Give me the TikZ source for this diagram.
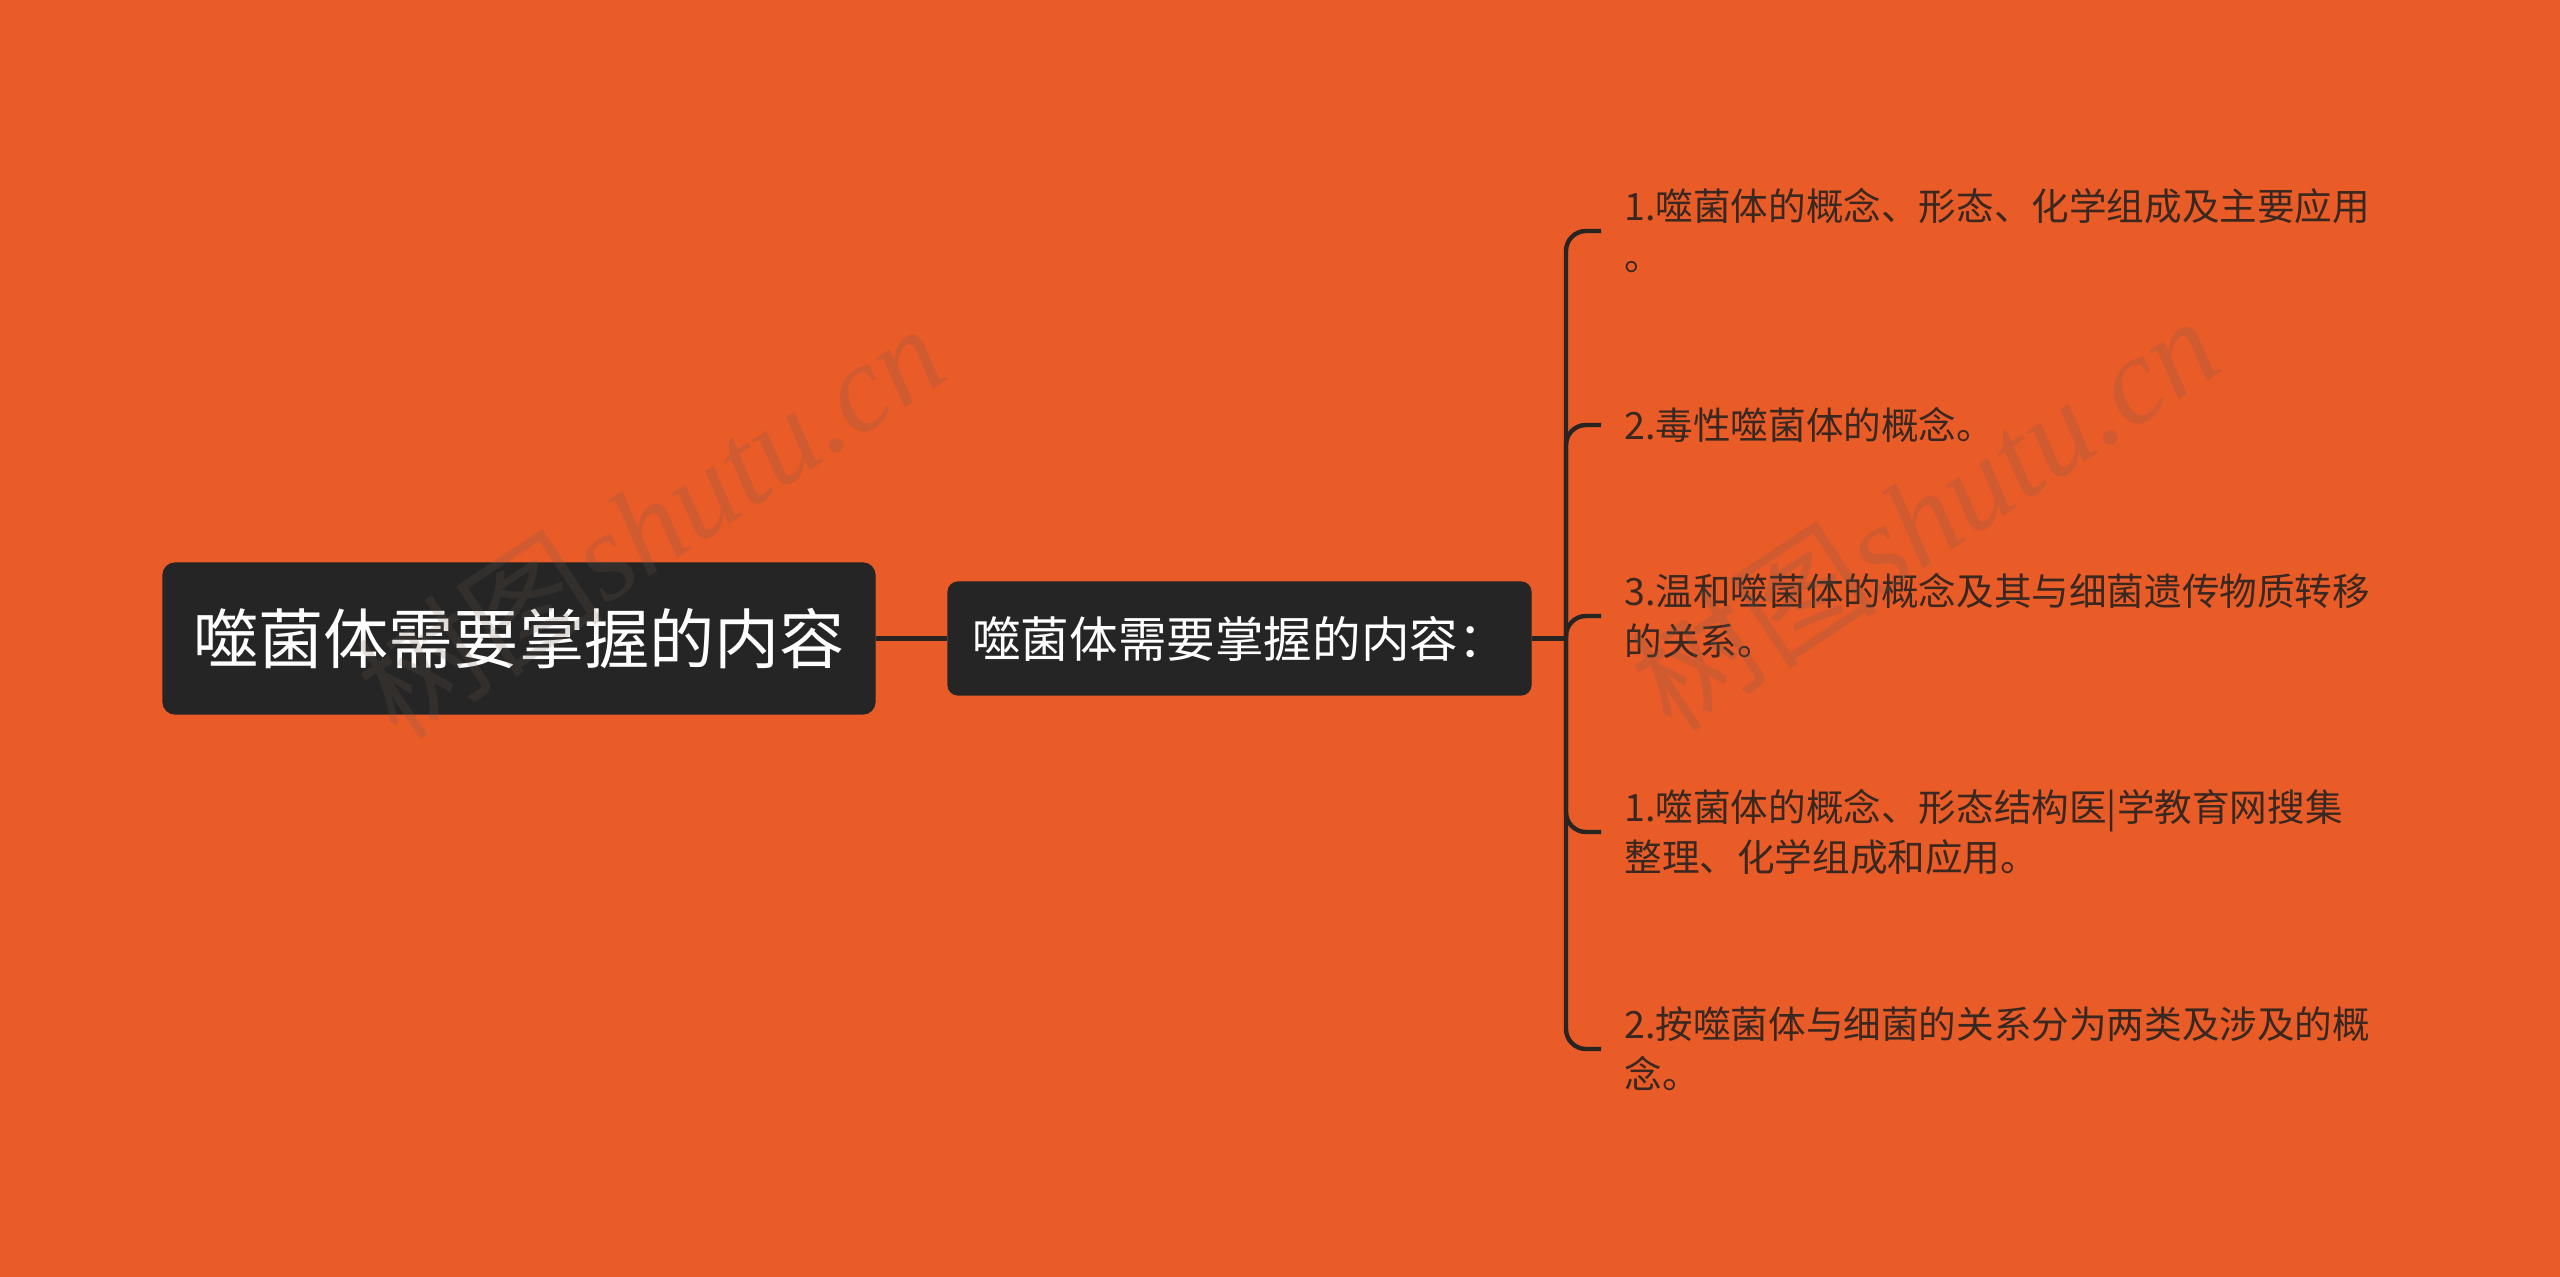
\documentclass[tikz,border=0pt]{standalone}
\usepackage{fontspec}
\newfontfamily\cjk{Noto Sans CJK SC}
\newfontfamily\wmserif{Liberation Serif}
\definecolor{bg}{RGB}{233,92,40}
\definecolor{boxc}{RGB}{37,37,37}
\definecolor{linec}{RGB}{40,36,34}
\definecolor{leaftext}{RGB}{58,40,32}
\definecolor{wmc}{RGB}{110,90,80}
\begin{document}
\begin{tikzpicture}[x=0.5pt,y=-0.5pt,
  rootbox/.style={fill=boxc, draw=black!85, line width=0.6pt, rounded corners=6pt, text=white,
    font=\cjk\fontsize{32.6}{40}\selectfont, minimum width=356pt, minimum height=75.5pt, inner sep=0pt},
  midbox/.style={fill=boxc, draw=black!85, line width=0.6pt, rounded corners=5pt, text=white,
    font=\cjk\fontsize{24.3}{28}\selectfont, minimum width=291.5pt, minimum height=56.5pt, inner sep=0pt},
  leaf/.style={anchor=west, inner xsep=11.5pt, inner ysep=0pt, align=left, text=leaftext,
    font=\cjk\fontsize{18.8}{25}\selectfont},
  conn/.style={draw=linec, line width=2.2pt},
  bracket/.style={conn, rounded corners=10pt},
  wm/.style={text=wmc, opacity=0.2, inner sep=0pt, font=\fontsize{62}{70}\selectfont}
]
\fill[bg] (0,0) rectangle (2560,1277);
\useasboundingbox (0,0) rectangle (2560,1277);

\node[rootbox] (root) at (519,638.5) {噬菌体需要掌握的内容};
\node[midbox] (mid) at (1239.5,638.5) {噬菌体需要掌握的内容：};
\coordinate (hub) at (1566,638.5);

\node[leaf] (l1) at (1601,231) {1.噬菌体的概念、形态、化学组成及主要应用\\。};
\node[leaf] (l2) at (1601,425) {2.毒性噬菌体的概念。};
\node[leaf] (l3) at (1601,616) {3.温和噬菌体的概念及其与细菌遗传物质转移\\的关系。};
\node[leaf] (l4) at (1601,832) {1.噬菌体的概念、形态结构医|学教育网搜集\\整理、化学组成和应用。};
\node[leaf] (l5) at (1601,1049) {2.按噬菌体与细菌的关系分为两类及涉及的概\\念。};

\draw[conn] (root) -- (mid);
\draw[conn] (mid.east) -- (hub);
\foreach \n in {l1,l2,l3,l4,l5}{
  \draw[bracket] (hub) |- (\n.west);
}

\node[wm, rotate=33.5] (wm1) at (650,520) {{\cjk 树图}{\wmserif\itshape shutu.cn}};
\node[wm, rotate=33.5] (wm2) at (1924,512) {{\cjk 树图}{\wmserif\itshape shutu.cn}};
\end{tikzpicture}
\end{document}
